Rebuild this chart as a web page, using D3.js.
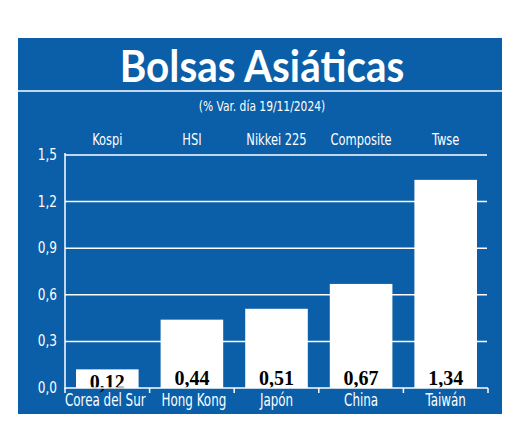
<!DOCTYPE html><html><head><meta charset="utf-8"><script src="https://cdn.jsdelivr.net/npm/d3@7"></script>
<style>body{margin:0;background:#fff}</style></head><body><svg id="c" width="520" height="447"></svg>
<script>
const countries=["Corea del Sur","Hong Kong","Japón","China","Taiwán"];
const indices=["Kospi","HSI","Nikkei 225","Composite","Twse"];
const values=[0.12,0.44,0.51,0.67,1.34];
const ticks=[0,0.3,0.6,0.9,1.2,1.5];
const svg=d3.select("#c");
const blue="#0b5ea8", nf="'DejaVu Sans Condensed','DejaVu Sans',sans-serif";
function narrow(sel,cx,cy,s){sel.attr("transform",`translate(${cx},${cy}) scale(${s},1)`);}
svg.append("rect").attr("x",18).attr("y",38).attr("width",484).attr("height",376).attr("fill",blue);
svg.append("line").attr("x1",18).attr("x2",502).attr("y1",91).attr("y2",91).attr("stroke","#fff").attr("stroke-width",1.5);
svg.append("text").attr("text-anchor","middle").attr("fill","#fff").attr("transform","translate(262,82) scale(0.92,1)")
 .attr("font-family","Lato,sans-serif").attr("font-weight","bold").attr("font-size",44).text("Bolsas Asiáticas");
svg.append("text").attr("text-anchor","middle").attr("fill","#fff").attr("transform","translate(262,111) scale(0.85,1)")
 .attr("font-family",nf).attr("font-size",14).text("(% Var. día 19/11/2024)");
const x=d3.scaleBand().domain(countries).range([65,488]).paddingInner(0.26).paddingOuter(0.13);
const y=d3.scaleLinear().domain([0,1.5]).range([388,155]);
const g=svg.append("g");
g.selectAll(".grid").data(ticks.slice(1)).join("line").attr("x1",65).attr("x2",487)
 .attr("y1",d=>y(d)).attr("y2",d=>y(d)).attr("stroke","#fff").attr("stroke-width",1.5);
g.selectAll(".tl").data(ticks).join("text").attr("text-anchor","end").attr("transform",d=>`translate(57,${y(d)+5}) scale(0.9,1)`)
 .attr("fill","#fff").attr("font-family",nf).attr("font-size",15).text(d=>d.toFixed(1).replace(".",","));
g.selectAll(".bar").data(values).join("rect").attr("x",(d,i)=>x(countries[i])).attr("width",x.bandwidth())
 .attr("y",d=>y(d)).attr("height",d=>y(0)-y(d)).attr("fill","#fff");
g.selectAll(".vl").data(values).join("text").attr("x",(d,i)=>x(countries[i])+x.bandwidth()/2).attr("y",d=>Math.max(y(d)+20,y(0)-3))
 .attr("text-anchor","middle").attr("font-family","'Liberation Serif',serif").attr("font-weight","bold").attr("font-size",20)
 .text(d=>d.toFixed(2).replace(".",","));
g.append("line").attr("x1",65).attr("x2",65).attr("y1",153).attr("y2",389).attr("stroke","#fff").attr("stroke-width",1.5);
g.append("line").attr("x1",65).attr("x2",488).attr("y1",388).attr("y2",388).attr("stroke","#fff").attr("stroke-width",1.5);
g.selectAll(".tk").data(d3.range(6)).join("line").attr("x1",i=>65+i*(423/5)).attr("x2",i=>65+i*(423/5))
 .attr("y1",388).attr("y2",393).attr("stroke","#fff").attr("stroke-width",1.5);
g.selectAll(".cl").data(countries).join("text").attr("text-anchor","middle")
 .attr("transform",d=>`translate(${x(d)+x.bandwidth()/2+(d==="Corea del Sur"?-2:d==="Hong Kong"?2:0)},406) scale(0.78,1)`)
 .attr("fill","#fff").attr("font-family",nf).attr("font-size",17).text(d=>d);
g.selectAll(".il").data(indices).join("text").attr("text-anchor","middle")
 .attr("transform",(d,i)=>`translate(${x(countries[i])+x.bandwidth()/2},145) scale(0.85,1)`)
 .attr("fill","#fff").attr("font-family",nf).attr("font-size",15).text(d=>d);
</script></body></html>
